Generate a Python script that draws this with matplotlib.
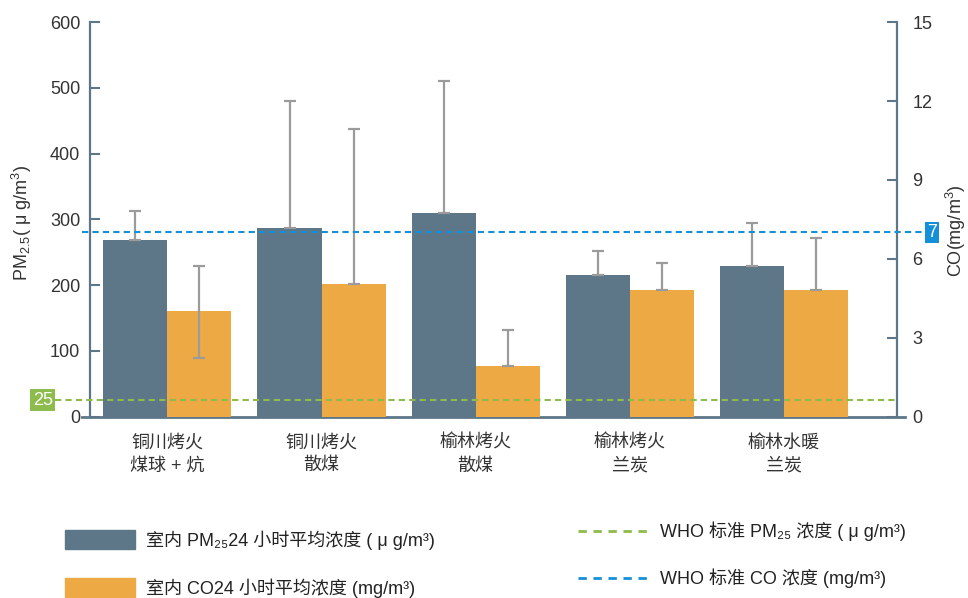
import matplotlib
matplotlib.use("Agg")
import matplotlib.pyplot as plt
from matplotlib.patches import Rectangle
from matplotlib.lines import Line2D
from matplotlib.transforms import blended_transform_factory
import numpy as np

# ---- data ----
categories = ["铜川烤火\n煤球 + 炕", "铜川烤火\n散煤", "榆林烤火\n散煤", "榆林烤火\n兰炭", "榆林水暖\n兰炭"]

pm25_mean = [268, 287, 309, 215, 229]
pm25_err_low = [0, 0, 0, 0, 0]
pm25_err_up = [45, 193, 201, 37, 65]

co_mean = [4.0, 5.05, 1.92, 4.8, 4.8]
co_err_low = [1.78, 0, 0, 0, 0]
co_err_up = [1.72, 5.9, 1.38, 1.03, 2.0]

who_pm25 = 25
who_co = 7

pm_ticks = [0, 100, 200, 300, 400, 500, 600]
co_ticks = [0, 3, 6, 9, 12, 15]

legend_labels = ["室内 PM₂₅24 小时平均浓度 ( μ g/m³)",
                 "室内 CO24 小时平均浓度 (mg/m³)",
                 "WHO 标准 PM₂₅ 浓度 ( μ g/m³)",
                 "WHO 标准 CO 浓度 (mg/m³)"]

# ---- style ----
C_PM = "#5d7789"
C_CO = "#eda944"
C_ERR = "#9b9b9b"
C_GREEN = "#8dbb4c"
C_BLUE = "#1590d8"
C_TEXT = "#333333"

plt.rcParams["font.family"] = ["Liberation Sans", "DejaVu Sans", "Noto Sans CJK SC"]
plt.rcParams["mathtext.fontset"] = "custom"
plt.rcParams["mathtext.rm"] = "Liberation Sans"
plt.rcParams["mathtext.it"] = "Liberation Sans"
plt.rcParams["font.size"] = 13

fig = plt.figure(figsize=(9.68, 5.98), dpi=100)
ax = fig.add_axes([0.093, 0.3035, 0.8337, 0.6595])
ax2 = ax.twinx()

x = np.arange(len(categories))
w = 0.4156

ax.bar(x - w / 2, pm25_mean, width=w, color=C_PM, zorder=2)
ax.errorbar(x - w / 2, pm25_mean, yerr=[pm25_err_low, pm25_err_up], fmt="none",
            ecolor=C_ERR, elinewidth=1.6, capsize=4.3, capthick=1.6, zorder=3)

ax2.bar(x + w / 2, co_mean, width=w, color=C_CO, zorder=2)
ax2.errorbar(x + w / 2, co_mean, yerr=[co_err_low, co_err_up], fmt="none",
             ecolor=C_ERR, elinewidth=1.6, capsize=4.3, capthick=1.6, zorder=3)

# WHO reference lines
green_tr = blended_transform_factory(ax2.transAxes, ax.transData)
ax2.add_line(Line2D([-0.0434, 1.0], [who_pm25, who_pm25], transform=green_tr,
                    color=C_GREEN, lw=1.5, linestyle=(0, (3, 2)), clip_on=False, zorder=4))
ax2.plot([-0.01, 1.036], [who_co, who_co], transform=ax2.get_yaxis_transform(),
         color=C_BLUE, lw=1.5, linestyle=(0, (3, 2)), clip_on=False, zorder=4)

ax.text(-0.046, who_pm25, str(who_pm25), transform=green_tr, ha="right", va="center",
        color="white", fontsize=13,
        bbox=dict(boxstyle="square,pad=0.14", fc=C_GREEN, ec="none"), clip_on=False)
ax2.text(1.037, who_co, str(who_co), transform=ax2.get_yaxis_transform(), ha="left",
         va="center", color="white", fontsize=13,
         bbox=dict(boxstyle="square,pad=0.1", fc=C_BLUE, ec="none"), clip_on=False, zorder=5)

# axes limits and ticks
ax.set_xlim(-0.503, 4.737)
ax.set_ylim(0, 600)
ax2.set_ylim(0, 15)
ax.set_yticks(pm_ticks)
ax2.set_yticks(co_ticks)
ax.set_xticks(x)
ax.set_xticklabels(categories, linespacing=1.45)

for a in (ax, ax2):
    for s in a.spines.values():
        s.set_visible(False)

ax.spines["left"].set_visible(True)
ax.spines["left"].set_color(C_PM)
ax.spines["left"].set_linewidth(1.6)
ax2.spines["right"].set_visible(True)
ax2.spines["right"].set_color(C_PM)
ax2.spines["right"].set_linewidth(1.6)

# base line, a little wider than the plot box
ax.add_line(Line2D([-0.01, 1.01], [0, 0], transform=ax.get_yaxis_transform(),
                   color=C_PM, lw=2, clip_on=False, zorder=5))

ax.tick_params(axis="y", direction="in", length=7, width=1.5, color=C_PM,
               pad=7, labelsize=13, labelcolor=C_TEXT)
ax2.tick_params(axis="y", direction="in", length=7, width=1.5, color=C_PM,
                pad=11, labelsize=13, labelcolor=C_TEXT)
ax.tick_params(axis="x", length=0, pad=13, labelsize=13, labelcolor=C_TEXT)

ax.set_ylabel(r"PM$_{2.5}$( μ g/m$^3$)", fontsize=13, color=C_TEXT)
ax.yaxis.set_label_coords(-0.069, 0.49)
ax2.set_ylabel(r"CO(mg/m$^3$)", fontsize=13, color=C_TEXT, rotation=90)
ax2.yaxis.set_label_coords(1.058, 0.47)

# ---- legend ----
def fx(px):
    return px / 968


def fy(py):
    return 1 - py / 598


fig.add_artist(Rectangle((fx(65), fy(549)), fx(70), 19 / 598, color=C_PM, transform=fig.transFigure))
fig.add_artist(Rectangle((fx(65), fy(597)), fx(70), 19 / 598, color=C_CO, transform=fig.transFigure))
fig.text(fx(146), fy(540), legend_labels[0], va="center", fontsize=13, color="#222222")
fig.text(fx(146), fy(588), legend_labels[1], va="center", fontsize=13, color="#222222")

fig.add_artist(Line2D([fx(578), fx(650)], [fy(531), fy(531)], color=C_GREEN, lw=2,
                      linestyle=(0, (3, 2.4)), transform=fig.transFigure))
fig.add_artist(Line2D([fx(578), fx(650)], [fy(578), fy(578)], color=C_BLUE, lw=2,
                      linestyle=(0, (3, 2.4)), transform=fig.transFigure))
fig.text(fx(660), fy(531), legend_labels[2], va="center", fontsize=13, color="#222222")
fig.text(fx(660), fy(578), legend_labels[3], va="center", fontsize=13, color="#222222")

fig.savefig("out.png", dpi=100)
